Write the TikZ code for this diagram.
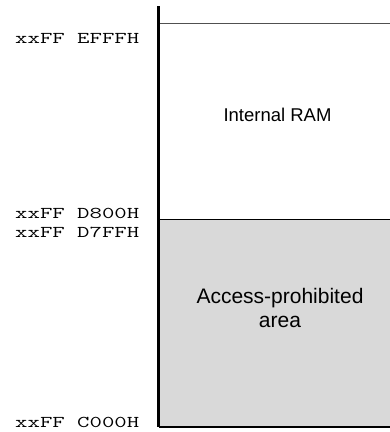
\documentclass[tikz,border=0pt]{standalone}
\usepackage{fontspec}
\setmainfont{Liberation Sans}
\newcommand\addrtext[1]{\scalebox{1.46}[1]{\ttfamily\fontsize{16.5}{17}\selectfont #1}}
\begin{document}
\begin{tikzpicture}[x=1pt,y=-1pt,
  addr/.style={anchor=base west,inner sep=0pt},
  lbl/.style={inner sep=0pt,align=center},
  edge/.style={draw=black,line width=1pt}]
\useasboundingbox (0,0) rectangle (390,432);
\fill[fill={rgb,255:red,217;green,217;blue,217}] (159,219) rectangle (390,427);
\coordinate (top) at (158.5,6);
\coordinate (bot) at (158.5,427);
\coordinate (tr) at (390,23);
\coordinate (mr) at (390,219);
\coordinate (br) at (390,427);
\draw[edge,draw={rgb,255:red,80;green,80;blue,80}] (158.5,23) -- (tr);
\draw[edge] (158.5,219) -- (mr);
\draw[edge,line width=1.5pt] (158.5,427) -- (br);
\draw[line width=2.5pt] (top) -- (bot);
\node[addr] (a1) at (15,43) {\addrtext{xxFF EFFFH}};
\node[addr] (a2) at (15,218) {\addrtext{xxFF D800H}};
\node[addr] (a3) at (15,237) {\addrtext{xxFF D7FFH}};
\node[addr] (a4) at (15,427) {\addrtext{xxFF C000H}};
\node[lbl,anchor=base,font=\fontsize{18.5}{22}\selectfont] (ram) at (277.5,121) {Internal RAM};
\node[lbl,anchor=base,font=\fontsize{21}{24}\selectfont] (acc1) at (280,303) {Access-prohibited};
\node[lbl,anchor=base,font=\fontsize{21}{24}\selectfont] (acc2) at (280,327) {area};
\end{tikzpicture}
\end{document}
